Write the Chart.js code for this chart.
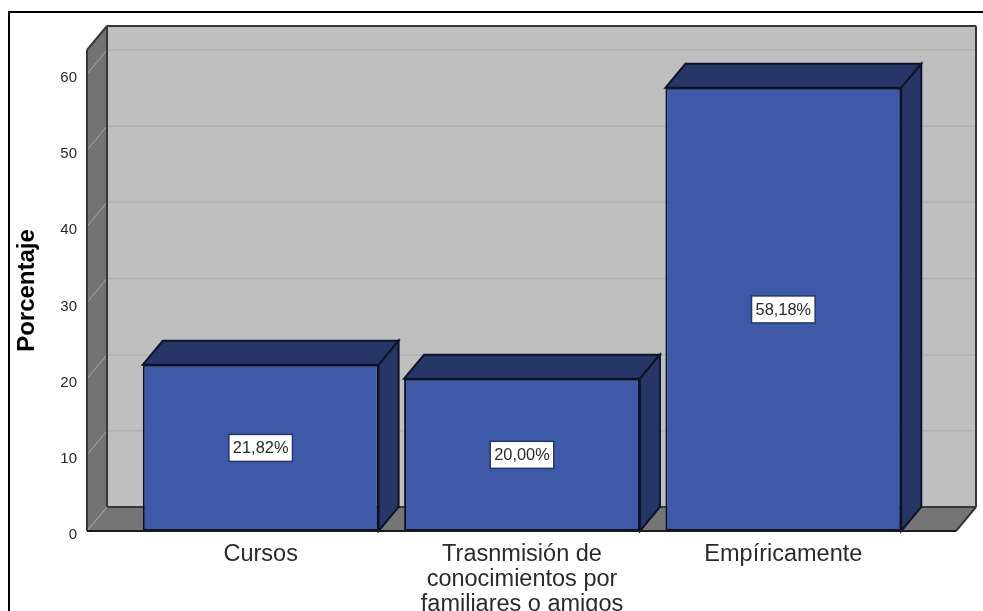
<!DOCTYPE html>
<html>
<head>
<meta charset="utf-8">
<title>Porcentaje</title>
<script src="https://cdn.jsdelivr.net/npm/chart.js@4"></script>
<style>
    html, body { margin: 0; padding: 0; background: #fff; overflow: hidden; }
    #frame { position: absolute; left: 8px; top: 11px; width: 975px; height: 600px; border-top: 2px solid #000; border-left: 2px solid #000; box-sizing: border-box; }
    #chart { position: absolute; left: 0; top: 0; }
</style>
</head>
<body>
<div id="frame"></div>
<canvas id="chart" width="983" height="611"></canvas>
<script>
let categories = ['Cursos', ['Trasnmisión de', 'conocimientos por', 'familiares o amigos'], 'Empíricamente'];
let percentages = [21.82, 20.00, 58.18];
let valueLabels = ['21,82%', '20,00%', '58,18%'];
let axisMax = 63.15;
let axisStep = 10;

// 3D look
let depthX = 20;
let depthY = 24;
let wallLeft = 43;
let wallRight = 42;

function shape(ctx, points, fill, stroke, width) {
    ctx.beginPath();
    points.forEach(function(p, i) {
        if (i == 0) ctx.moveTo(p[0], p[1]); else ctx.lineTo(p[0], p[1]);
    });
    ctx.closePath();
    if (fill) { ctx.fillStyle = fill; ctx.fill(); }
    if (stroke) { ctx.strokeStyle = stroke; ctx.lineWidth = width; ctx.stroke(); }
}

function line(ctx, x1, y1, x2, y2, color, width) {
    ctx.beginPath();
    ctx.moveTo(x1, y1);
    ctx.lineTo(x2, y2);
    ctx.strokeStyle = color;
    ctx.lineWidth = width;
    ctx.stroke();
}

// back wall, side wall, floor and grid, then the sides of the bars
let box3d = {
    id: 'box3d',
    beforeDatasetsDraw: function(chart) {
        let ctx = chart.ctx;
        let area = chart.chartArea;
        let yScale = chart.scales.y;
        let l = area.left - wallLeft, r = area.right + wallRight;
        let t = area.top, b = area.bottom;
        let edge = '#383838';

        ctx.save();
        shape(ctx, [[l + depthX, t - depthY], [r + depthX, t - depthY], [r + depthX, b - depthY], [l + depthX, b - depthY]], '#bfbfbf');

        yScale.ticks.forEach(function(tick) {
            let y = yScale.getPixelForValue(tick.value);
            if (tick.value > 0) line(ctx, l + depthX, y - depthY, r + depthX, y - depthY, '#b0b0b0', 1.5);
        });

        shape(ctx, [[l, t], [l + depthX, t - depthY], [l + depthX, b - depthY], [l, b]], '#737373');
        shape(ctx, [[l, b], [l + depthX, b - depthY], [r + depthX, b - depthY], [r, b]], '#757575');

        yScale.ticks.forEach(function(tick) {
            let y = yScale.getPixelForValue(tick.value);
            line(ctx, l, y, l + depthX, y - depthY, '#a8a8a8', 1);
        });

        line(ctx, l, b, l, t, edge, 2);
        line(ctx, l, t, l + depthX, t - depthY, edge, 2);
        line(ctx, l + depthX, t - depthY, r + depthX, t - depthY, edge, 2);
        line(ctx, r + depthX, t - depthY, r + depthX, b - depthY, edge, 2);
        line(ctx, l + depthX, t - depthY, l + depthX, b - depthY, edge, 2);
        line(ctx, l + depthX, b - depthY, r + depthX, b - depthY, edge, 2);
        line(ctx, r + depthX, b - depthY, r, b, edge, 2);

        chart.getDatasetMeta(0).data.forEach(function(bar) {
            let x1 = bar.x - bar.width / 2, x2 = bar.x + bar.width / 2;
            let top = bar.y, base = bar.base;
            let dark = '#263767', border = '#0c1228';
            shape(ctx, [[x1, top], [x1 + depthX, top - depthY], [x2 + depthX, top - depthY], [x2, top]], dark, border, 2);
            shape(ctx, [[x2, top], [x2 + depthX, top - depthY], [x2 + depthX, base - depthY], [x2, base]], dark, border, 2);
        });
        ctx.restore();
    },
    afterDatasetsDraw: function(chart) {
        let ctx = chart.ctx;
        let area = chart.chartArea;
        ctx.save();
        line(ctx, area.left - wallLeft, area.bottom, area.right + wallRight, area.bottom, '#1a1a1a', 2);

        ctx.font = '16.4px "Liberation Sans"';
        ctx.textAlign = 'center';
        ctx.textBaseline = 'middle';
        chart.getDatasetMeta(0).data.forEach(function(bar, i) {
            let cy = (bar.y + bar.base) / 2;
            let w = ctx.measureText(valueLabels[i]).width + 8;
            let h = 27;
            ctx.fillStyle = '#ffffff';
            ctx.strokeStyle = '#26356a';
            ctx.lineWidth = 1.5;
            ctx.fillRect(bar.x - w / 2, cy - h / 2, w, h);
            ctx.strokeRect(bar.x - w / 2, cy - h / 2, w, h);
            ctx.fillStyle = '#2a2a2a';
            ctx.fillText(valueLabels[i], bar.x, cy + 1);
        });
        ctx.restore();
    }
};

new Chart(document.getElementById('chart'), {
    type: 'bar',
    plugins: [box3d],
    data: {
        labels: categories,
        datasets: [{
            label: 'Porcentaje',
            data: percentages,
            backgroundColor: '#3e59a7',
            borderColor: '#0c1228',
            borderWidth: 2,
            borderSkipped: false,
            categoryPercentage: 1,
            barPercentage: 0.9025
        }]
    },
    options: {
        responsive: false,
        animation: false,
        layout: { padding: { left: 0, right: 69, top: 50, bottom: 0 } },
        plugins: {
            legend: { display: false },
            tooltip: { enabled: false }
        },
        scales: {
            x: {
                grid: { display: false, drawTicks: false },
                border: { display: false },
                afterFit: function(scale) { scale.height = 80; },
                ticks: {
                    padding: 11,
                    maxRotation: 0,
                    autoSkip: false,
                    color: '#2a2a2a',
                    font: { family: '"Liberation Sans"', size: 23.5, lineHeight: 1.06 }
                }
            },
            y: {
                min: 0,
                max: axisMax,
                grid: { display: false, drawTicks: false },
                border: { display: false },
                // tick padding also pads the scale top, drop that
                afterFit: function(scale) {
                    scale.width = 130;
                    scale.paddingTop = 0;
                    scale.paddingBottom = 0;
                },
                title: {
                    display: true,
                    text: 'Porcentaje',
                    color: '#000000',
                    padding: { top: 13, bottom: 0 },
                    font: { family: '"Liberation Sans"', size: 24, weight: 'bold' }
                },
                ticks: {
                    stepSize: axisStep,
                    includeBounds: false,
                    padding: 53,
                    labelOffset: 4,
                    color: '#2a2a2a',
                    font: { family: '"Liberation Sans"', size: 15 }
                }
            }
        }
    }
});
</script>
</body>
</html>
